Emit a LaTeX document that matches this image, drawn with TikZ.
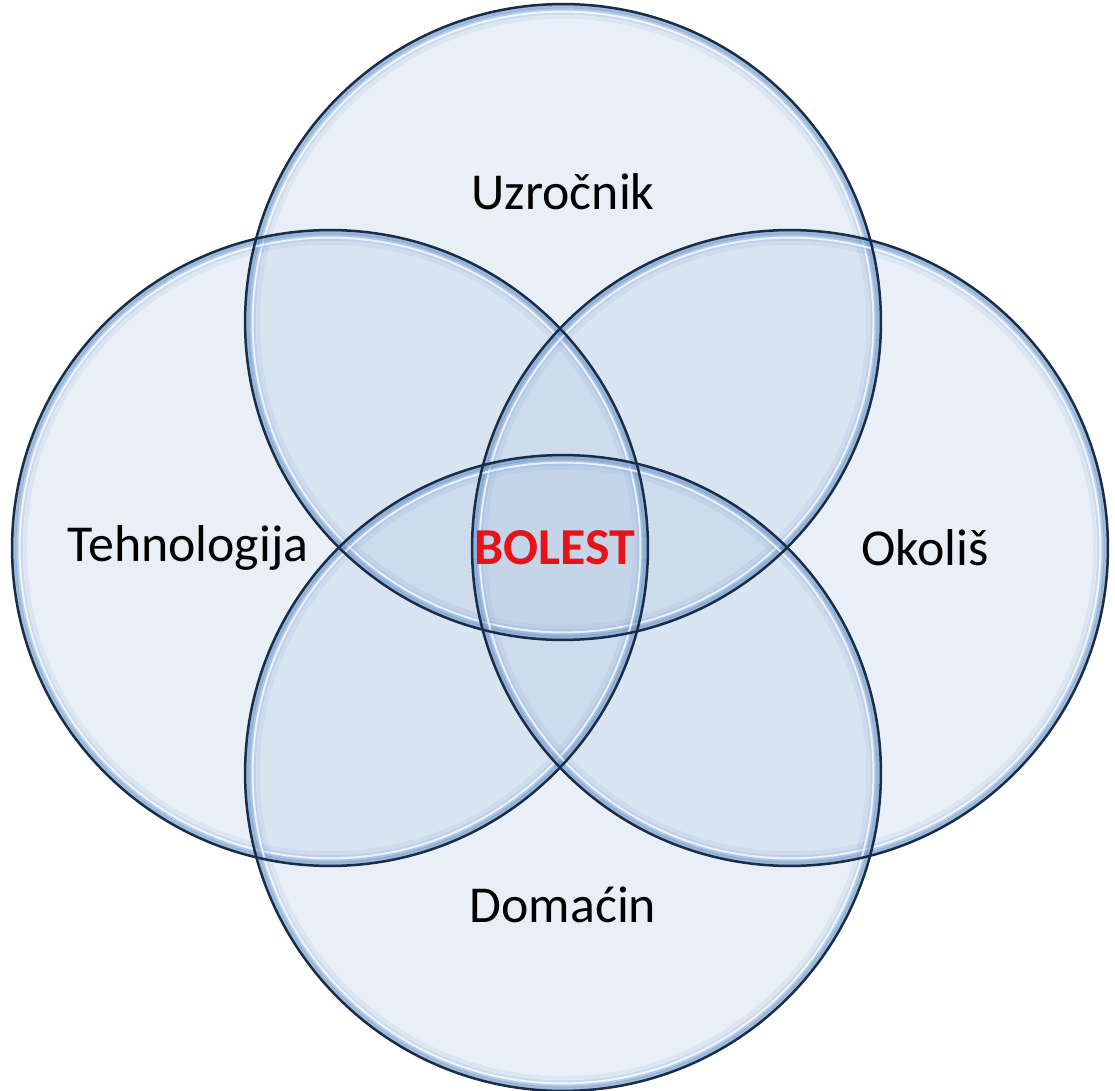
\documentclass[tikz,border=0pt]{standalone}
\usepackage{fontspec}
\setmainfont{Carlito}
\definecolor{discfill}{RGB}{170,195,225}
\definecolor{discedge}{RGB}{25,45,70}
\definecolor{discrim}{RGB}{100,145,200}
\definecolor{diseasered}{RGB}{230,20,25}
\begin{document}
\begin{tikzpicture}[x=0.02cm,y=-0.02cm,
  disc/.style={circle,minimum size=12.72cm,inner sep=0pt,fill=discfill,fill opacity=0.26},
  lbl/.style={font=\fontsize{29.5}{32}\selectfont}]
\useasboundingbox (0,0) rectangle (1115,1091);

% the four circles
\node[disc] (top) at (563,322) {};
\node[disc] (left) at (330,548) {};
\node[disc] (right) at (790,548) {};
\node[disc] (bottom) at (563,773) {};

% glossy rim inside each circle
\foreach \c in {top,left,right,bottom}{
  \foreach \r/\o in {6.31/0.55,6.25/0.38,6.18/0.22,6.1/0.1}
    \draw[discrim,line width=0.07cm,opacity=\o] (\c.center) circle (\r cm);
  \draw[white,line width=0.04cm,opacity=0.75] (\c.center) circle (6.21cm);
}
\foreach \c in {top,left,right,bottom}
  \draw[discedge,line width=0.05cm] (\c.center) circle (6.36cm);

% labels
\node[lbl] (uzr) at (563,192) {Uzročnik};
\node[lbl] (teh) at (188,548) {Tehnologija};
\node[lbl] (oko) at (925,548) {Okoliš};
\node[lbl] (dom) at (563,905) {Domaćin};
\node[lbl,font=\fontsize{29.5}{32}\selectfont\bfseries,text=diseasered] (bol) at (555,548) {BOLEST};

\end{tikzpicture}
\end{document}
